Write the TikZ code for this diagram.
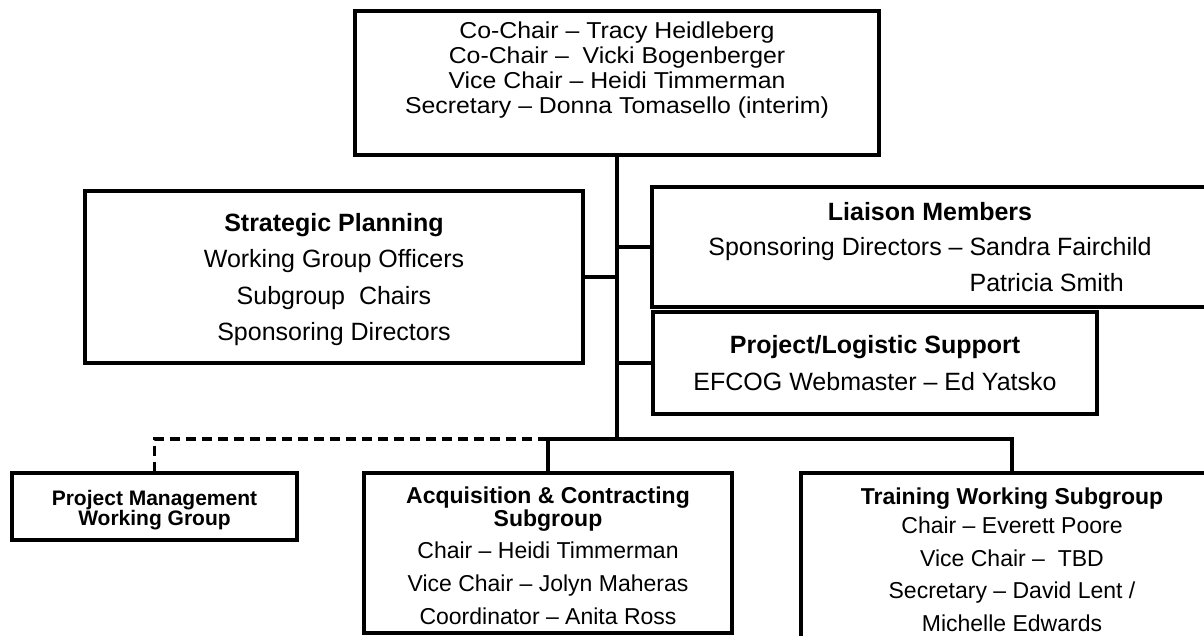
\documentclass[tikz,border=0pt]{standalone}
\usepackage{fontspec}
\usepackage{calc}
\setmainfont{Liberation Sans}
\newfontfamily\widefont{Liberation Sans}[Ligatures=TeX,FakeStretch=1.08]
\setlength{\lineskiplimit}{-30pt}
\begin{document}
\begin{tikzpicture}[x=1pt,y=-1pt,
  orgbox/.style={draw,line width=3.5pt,inner sep=0pt},
  orgtext/.style={anchor=north,align=center,inner sep=0pt},
  link/.style={line width=3.5pt},
  dashlink/.style={line width=3.5pt,dash pattern=on 10pt off 6pt}]
\clip[use as bounding box] (0,0) rectangle (1204,635);

\node[orgbox,minimum width=524pt,minimum height=144pt] (chairs) at (617,83) {};
\node[orgbox,minimum width=498pt,minimum height=172pt] (strat) at (334,277) {};
\node[orgbox,minimum width=556pt,minimum height=120pt] (liaison) at (930,247) {};
\node[orgbox,minimum width=444pt,minimum height=102pt] (support) at (875,363) {};
\node[orgbox,minimum width=285pt,minimum height=67pt] (pm) at (154.5,506.5) {};
\node[orgbox,minimum width=368pt,minimum height=160pt] (acq) at (548,553) {};
\node[orgbox,minimum width=422pt,minimum height=210pt] (train) at (1012,578) {};

\node[orgtext,font=\widefont\fontsize{23}{25}\selectfont] (chairstext) at (617,22)
  {Co-Chair -- Tracy Heidleberg\\Co-Chair --\ \ Vicki Bogenberger\\
   Vice Chair -- Heidi Timmerman\\Secretary -- Donna Tomasello (interim)};
\node[orgtext,font=\fontsize{25}{36.5}\selectfont] (strattext) at (334,213)
  {\textbf{Strategic Planning}\\Working Group Officers\\Subgroup\ \ Chairs\\Sponsoring Directors};
\node[orgtext,font=\fontsize{25}{35.5}\selectfont] (liaisontext) at (930,202)
  {\textbf{Liaison Members}\\Sponsoring Directors -- Sandra Fairchild\\
   \makebox[\widthof{Sponsoring Directors -- Sandra Fairchild}][l]{\phantom{Sponsoring Directors -- }Patricia Smith}};
\node[orgtext,font=\fontsize{25}{37}\selectfont] (supporttext) at (875,335)
  {\textbf{Project/Logistic Support}\\EFCOG Webmaster -- Ed Yatsko};
\node[orgtext,font=\fontsize{21}{20.5}\selectfont\bfseries] (pmtext) at (154.5,490)
  {Project Management\\Working Group};
\node[orgtext,font=\fontsize{23}{33}\selectfont] (acqtext) at (548,487)
  {\textbf{Acquisition \& Contracting}\\[-10pt]\textbf{Subgroup}\\[-1pt]
   Chair -- Heidi Timmerman\\Vice Chair -- Jolyn Maheras\\Coordinator -- Anita Ross};
\node[orgtext,font=\fontsize{23}{32.5}\selectfont] (traintext) at (1012,488)
  {\textbf{Training Working Subgroup}\\[-3.5pt]Chair -- Everett Poore\\Vice Chair --\ \ TBD\\
   Secretary -- David Lent /\\Michelle Edwards};

\coordinate (bus) at (617,439);
\draw[link] (chairs.south) -- (bus);
\draw[link] (strat.east) -- (strat.east -| bus);
\draw[link] (liaison.west) -- (liaison.west -| bus);
\draw[link] (support.west) -- (support.west -| bus);
\draw[link] (bus) -| (acq.north);
\draw[link] (bus) -| (train.north);
\draw[dashlink] (acq.north |- bus) -| (pm.north);
\end{tikzpicture}
\end{document}
